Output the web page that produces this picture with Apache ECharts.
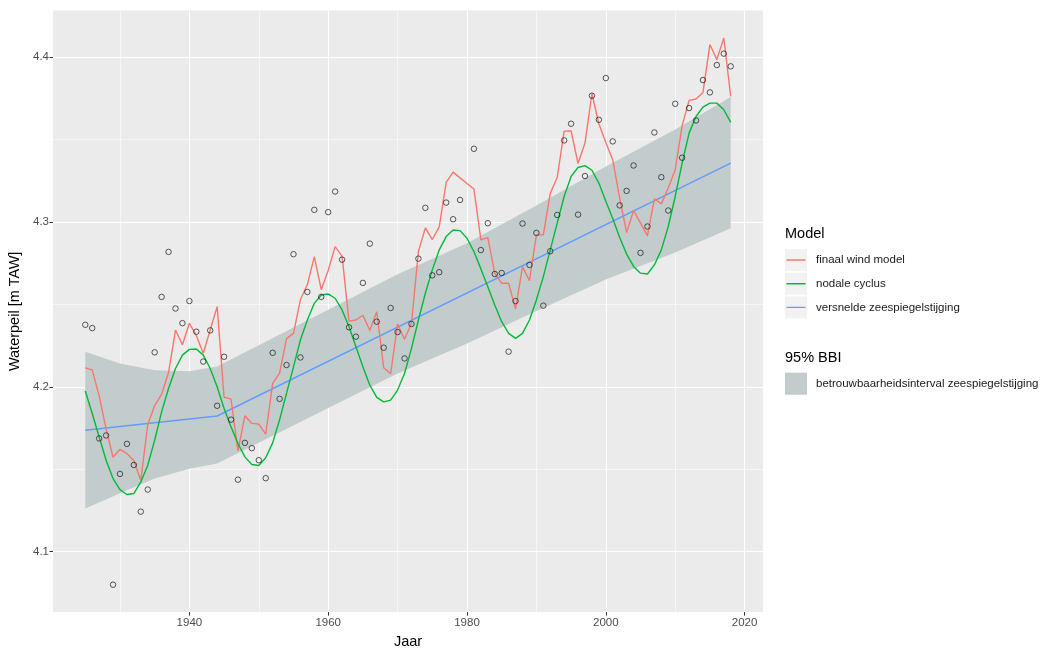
<!DOCTYPE html>
<html>
<head>
<meta charset="utf-8">
<title>Waterpeil</title>
<script src="https://cdn.jsdelivr.net/npm/echarts@6/dist/echarts.min.js"></script>
<style>
  html, body { margin: 0; padding: 0; background: #ffffff; }
  #chart { width: 1057px; height: 653px; }
</style>
</head>
<body>
<div id="chart"></div>
<script>
// Jaarlijkse waarnemingen en modellen (m TAW)
const years = [
  1925, 1926, 1927, 1928, 1929, 1930, 1931, 1932, 1933, 1934,
  1935, 1936, 1937, 1938, 1939, 1940, 1941, 1942, 1943, 1944,
  1945, 1946, 1947, 1948, 1949, 1950, 1951, 1952, 1953, 1954,
  1955, 1956, 1957, 1958, 1959, 1960, 1961, 1962, 1963, 1964,
  1965, 1966, 1967, 1968, 1969, 1970, 1971, 1972, 1973, 1974,
  1975, 1976, 1977, 1978, 1979, 1980, 1981, 1982, 1983, 1984,
  1985, 1986, 1987, 1988, 1989, 1990, 1991, 1992, 1993, 1994,
  1995, 1996, 1997, 1998, 1999, 2000, 2001, 2002, 2003, 2004,
  2005, 2006, 2007, 2008, 2009, 2010, 2011, 2012, 2013, 2014,
  2015, 2016, 2017, 2018
];

const observed = [
  4.2376, 4.2356, 4.1687, 4.1705, 4.0800, 4.1472, 4.1654, 4.1526, 4.1243, 4.1377,
  4.2209, 4.2545, 4.2818, 4.2475, 4.2386, 4.2520, 4.2334, 4.2153, 4.2342, 4.1885,
  4.2182, 4.1801, 4.1437, 4.1660, 4.1628, 4.1555, 4.1446, 4.2206, 4.1927, 4.2132,
  4.2804, 4.2178, 4.2575, 4.3073, 4.2545, 4.3059, 4.3184, 4.2771, 4.2361, 4.2304,
  4.2630, 4.2868, 4.2395, 4.2237, 4.2478, 4.2332, 4.2172, 4.2381, 4.2777, 4.3085,
  4.2676, 4.2695, 4.3117, 4.3016, 4.3133, null,   4.3443, 4.2829, 4.2992, 4.2684,
  4.2690, 4.2213, 4.2520, 4.2990, 4.2739, 4.2933, 4.2492, 4.2822, 4.3042, 4.3494,
  4.3595, 4.3044, 4.3278, 4.3765, 4.3619, 4.3872, 4.3488, 4.3100, 4.3188, 4.3342,
  4.2812, 4.2972, 4.3542, 4.3271, 4.3069, 4.3716, 4.3389, 4.3690, 4.3615, 4.3860,
  4.3785, 4.3951, 4.4020, 4.3943
];

const windModel = [
  4.2115, 4.2103, 4.1945, 4.1745, 4.1573, 4.1621, 4.1595, 4.1552, 4.1432, 4.1770,
  4.1886, 4.1955, 4.2086, 4.2344, 4.2255, 4.2385, 4.2311, 4.2203, 4.2344, 4.2486,
  4.1937, 4.1925, 4.1612, 4.1824, 4.1778, 4.1774, 4.1713, 4.2021, 4.2083, 4.2292,
  4.2324, 4.2528, 4.2620, 4.2789, 4.2589, 4.2705, 4.2850, 4.2792, 4.2398, 4.2405,
  4.2434, 4.2342, 4.2455, 4.2115, 4.2079, 4.2381, 4.2288, 4.2385, 4.2820, 4.2963,
  4.2893, 4.2970, 4.3240, 4.3302, 4.3267, 4.3233, 4.3199, 4.2891, 4.2905, 4.2688,
  4.2628, 4.2628, 4.2472, 4.2729, 4.2644, 4.2921, 4.2921, 4.3174, 4.3269, 4.3550,
  4.3552, 4.3354, 4.3478, 4.3777, 4.3595, 4.3481, 4.3376, 4.3144, 4.2935, 4.3069,
  4.2992, 4.2915, 4.3140, 4.3109, 4.3205, 4.3316, 4.3583, 4.3737, 4.3745, 4.3785,
  4.4075, 4.3984, 4.4115, 4.3761
];

const nodalCycle = [
  4.1975, 4.1838, 4.1696, 4.1555, 4.1444, 4.1377, 4.1347, 4.1353, 4.1423, 4.1525,
  4.1676, 4.1848, 4.1990, 4.2111, 4.2192, 4.2227, 4.2229, 4.2192, 4.2111, 4.2000,
  4.1869, 4.1757, 4.1656, 4.1575, 4.1529, 4.1523, 4.1570, 4.1660, 4.1800, 4.1960,
  4.2121, 4.2284, 4.2405, 4.2506, 4.2557, 4.2563, 4.2537, 4.2466, 4.2364, 4.2243,
  4.2121, 4.2010, 4.1936, 4.1909, 4.1919, 4.1980, 4.2081, 4.2233, 4.2405, 4.2567,
  4.2709, 4.2830, 4.2911, 4.2951, 4.2947, 4.2901, 4.2820, 4.2715, 4.2607, 4.2496,
  4.2395, 4.2324, 4.2294, 4.2324, 4.2405, 4.2526, 4.2668, 4.2830, 4.2992, 4.3154,
  4.3275, 4.3330, 4.3341, 4.3313, 4.3235, 4.3125, 4.3020, 4.2905, 4.2805, 4.2730,
  4.2689, 4.2684, 4.2739, 4.2830, 4.2972, 4.3154, 4.3356, 4.3538, 4.3639, 4.3696,
  4.3720, 4.3720, 4.3680, 4.3603
];

// Versnelde zeespiegelstijging: knik in 1944
const trendYears = [1925, 1944, 2018];
const trendValues = [4.1737, 4.1823, 4.3356];

// 95% betrouwbaarheidsinterval rond de trend
const bandYears = [1925, 1930, 1935, 1940, 1944, 1950, 1960, 1970, 1980, 1990, 2000, 2010, 2018];
const bandLower = [4.1262, 4.1355, 4.1444, 4.1503, 4.1535, 4.1661, 4.1871, 4.2080, 4.2262, 4.2460, 4.2650, 4.2815, 4.2962];
const bandUpper = [4.2213, 4.2142, 4.2100, 4.2095, 4.2123, 4.2252, 4.2467, 4.2682, 4.2870, 4.3100, 4.3335, 4.3560, 4.3757];

// As-indeling
const xTicks = [1940, 1960, 1980, 2000, 2020];
const xMinor = [1930, 1950, 1970, 1990, 2010];
const yTicks = [4.1, 4.2, 4.3, 4.4];
const yMinor = [4.15, 4.25, 4.35];

const seriesNames = ['finaal wind model', 'nodale cyclus', 'versnelde zeespiegelstijging'];
const bandName = 'betrouwbaarheidsinterval zeespiegelstijging';

const colRed = '#F8766D';
const colGreen = '#00BA38';
const colBlue = '#619CFF';
const colBand = '#C2CCCC';
const font = "'Liberation Sans', Arial, sans-serif";

const pairs = (xs, ys) => xs.map((x, i) => [x, ys[i]]);

const gridLines = [];
xTicks.forEach(v => gridLines.push({ xAxis: v, lineStyle: { width: 1.1 } }));
xMinor.forEach(v => gridLines.push({ xAxis: v, lineStyle: { width: 0.55 } }));
yTicks.forEach(v => gridLines.push({ yAxis: v, lineStyle: { width: 1.1 } }));
yMinor.forEach(v => gridLines.push({ yAxis: v, lineStyle: { width: 0.55 } }));

// Legend key: a thin horizontal stroke centred in a 22x22 box
const lineKey = 'path://M0,0h0.01v0.01h-0.01z M1.5,10.3h19v1.4h-19z M21.99,21.99h0.01v0.01h-0.01z';

// Band polygon: upper edge left-to-right, lower edge back, through the axis scales
function renderBand(params, api) {
  if (params.dataIndex !== 0) return null;
  const pts = [];
  for (let i = 0; i < bandYears.length; i++) pts.push(api.coord([bandYears[i], bandUpper[i]]));
  for (let i = bandYears.length - 1; i >= 0; i--) pts.push(api.coord([bandYears[i], bandLower[i]]));
  return {
    type: 'polygon',
    shape: { points: pts },
    style: { fill: colBand, stroke: null }
  };
}

const chart = echarts.init(document.getElementById('chart'), null, { renderer: 'canvas' });

chart.setOption({
  animation: false,
  backgroundColor: '#ffffff',
  textStyle: { fontFamily: font },
  grid: {
    left: 53, right: 294, top: 10.6, bottom: 40.9,
    outerBoundsMode: 'none', containLabel: false,
    show: true, backgroundColor: '#EBEBEB', borderWidth: 0
  },
  title: [
    { text: 'Model', left: 785, top: 226, padding: 0,
      textStyle: { fontFamily: font, fontSize: 14.5, fontWeight: 'normal', color: '#000000' } },
    { text: '95% BBI', left: 785, top: 350, padding: 0,
      textStyle: { fontFamily: font, fontSize: 14.5, fontWeight: 'normal', color: '#000000' } }
  ],
  legend: [
    {
      orient: 'vertical', left: 785, top: 249, padding: 0,
      itemWidth: 22, itemHeight: 22, itemGap: 1.7, selectedMode: false,
      icon: 'rect',
      data: seriesNames.map(n => ({ name: n, itemStyle: { color: '#F2F2F2', borderWidth: 0 } })),
      textStyle: { fontFamily: font, fontSize: 11.5, color: '#1A1A1A', padding: [0, 0, 0, 4] }
    },
    {
      orient: 'vertical', left: 785, top: 249, padding: 0,
      itemWidth: 22, itemHeight: 22, itemGap: 1.7, selectedMode: false,
      icon: lineKey,
      data: seriesNames.map((n, i) => ({
        name: n,
        itemStyle: { color: [colRed, colGreen, colBlue][i], borderWidth: 0 }
      })),
      textStyle: { fontFamily: font, fontSize: 11.5, color: 'rgba(0,0,0,0)', padding: [0, 0, 0, 4] }
    },
    {
      orient: 'vertical', left: 785, top: 372.7, padding: 0,
      itemWidth: 22, itemHeight: 22, selectedMode: false,
      icon: 'rect',
      data: [{ name: bandName, itemStyle: { color: colBand, borderWidth: 0 } }],
      textStyle: { fontFamily: font, fontSize: 11.5, color: '#1A1A1A', padding: [0, 0, 0, 4] }
    }
  ],
  xAxis: {
    type: 'value',
    min: 1920.35, max: 2022.65,
    name: 'Jaar', nameLocation: 'middle', nameGap: 14,
    nameTextStyle: { fontFamily: font, fontSize: 14.5, color: '#000000' },
    axisLine: { show: false },
    axisTick: { show: true, length: 3.5, customValues: xTicks, lineStyle: { color: '#333333', width: 1 } },
    axisLabel: {
      customValues: xTicks, margin: 5, fontFamily: font, fontSize: 11.5, color: '#4D4D4D',
      formatter: v => String(v)
    },
    splitLine: { show: false }
  },
  yAxis: {
    type: 'value',
    min: 4.0634, max: 4.4281,
    name: 'Waterpeil [m TAW]', nameLocation: 'middle', nameGap: 28, nameRotate: 90,
    nameTextStyle: { fontFamily: font, fontSize: 14.5, color: '#000000' },
    axisLine: { show: false },
    axisTick: { show: true, length: 3.5, customValues: yTicks, lineStyle: { color: '#333333', width: 1 } },
    axisLabel: {
      customValues: yTicks, margin: 4, fontFamily: font, fontSize: 11.5, color: '#4D4D4D',
      formatter: v => v.toFixed(1)
    },
    splitLine: { show: false }
  },
  series: [
    {
      // raster van het paneel
      type: 'line', name: '_raster', data: [], silent: true, z: 1,
      markLine: {
        silent: true, z: 1, symbol: ['none', 'none'], label: { show: false },
        lineStyle: { color: '#FFFFFF', type: 'solid' },
        emphasis: { disabled: true },
        data: gridLines
      }
    },
    {
      type: 'custom', name: bandName, z: 2, silent: true,
      coordinateSystem: 'cartesian2d',
      data: bandYears.map((y, i) => [y, bandLower[i], bandUpper[i]]),
      encode: { x: 0, y: [1, 2] },
      itemStyle: { color: colBand },
      renderItem: renderBand
    },
    {
      type: 'line', name: seriesNames[2], z: 3, silent: true,
      data: pairs(trendYears, trendValues),
      symbol: 'none', itemStyle: { color: colBlue },
      lineStyle: { color: colBlue, width: 1.4 }
    },
    {
      type: 'line', name: seriesNames[0], z: 3, silent: true,
      data: pairs(years, windModel),
      symbol: 'none', itemStyle: { color: colRed },
      lineStyle: { color: colRed, width: 1.4 }
    },
    {
      type: 'line', name: seriesNames[1], z: 3, silent: true,
      data: pairs(years, nodalCycle),
      symbol: 'none', itemStyle: { color: colGreen },
      lineStyle: { color: colGreen, width: 1.4 }
    },
    {
      type: 'scatter', name: '_waarnemingen', z: 4, silent: true,
      data: pairs(years, observed).filter(p => p[1] !== null),
      symbol: 'circle', symbolSize: 5.5,
      itemStyle: { color: 'rgba(0,0,0,0)', borderColor: '#1A1A1A', borderWidth: 0.9 }
    }
  ]
});
</script>
</body>
</html>
